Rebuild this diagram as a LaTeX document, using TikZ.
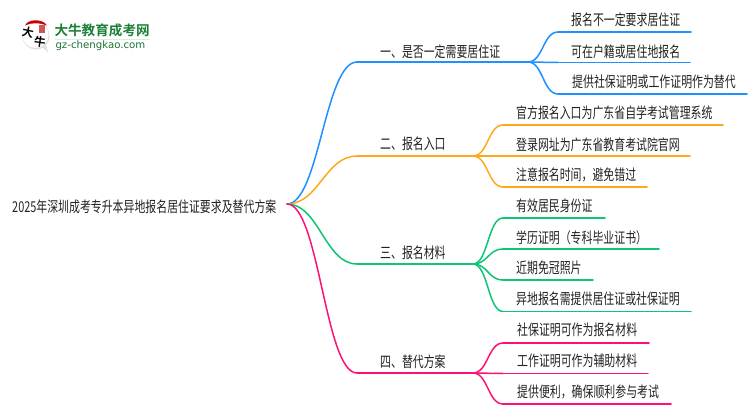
\documentclass[tikz,border=0pt]{standalone}
\usepackage{fontspec}
\setmainfont{Noto Sans CJK SC}
\newfontfamily\cjk[FakeStretch=0.727]{Noto Sans CJK SC}
\newfontfamily\cjkb{Noto Sans CJK SC Bold}
\newfontfamily\logofont{DejaVu Sans}
\definecolor{cblue}{HTML}{1E90FF}
\definecolor{corange}{HTML}{FFA91A}
\definecolor{cgreen}{HTML}{0CC673}
\definecolor{cpink}{HTML}{FF1076}
\definecolor{ctext}{HTML}{222222}
\definecolor{lgreen}{HTML}{1C7F36}
\tikzset{
  txt/.style={inner sep=0pt,anchor=west,text=ctext,font=\cjk\fontsize{15pt}{16pt}\selectfont},
  lnk/.style={line width=1.5pt,line cap=round},
  pt/.style={inner sep=0pt,minimum size=0pt,outer sep=0pt}
}
\newcommand{\crv}[3]{\draw[lnk,#1] (#2) .. controls +(32,0) and +(-32,0) .. (#3);}
\newcommand{\brc}[3]{\draw[lnk,#1] (#2) .. controls +(15,0) and +(-15,0) .. (#3);}
\begin{document}
\begin{tikzpicture}[x=1pt,y=-1pt]
\useasboundingbox (0,0) rectangle (750,410);
% logo
\fill[black!12] (36,36) circle (13.5);
\fill[black!12] (41,46) -- (48,52.5) -- (46,44) -- cycle;
\fill[white] (35.5,35) circle (13);
\fill[red!80!black] (25,25.5) .. controls (28,18.5) and (43,18.5) .. (47,25.5) .. controls (39,22.5) and (31,22.5) .. (25,25.5) -- cycle;
\fill[red!70!black,opacity=.65] (39,25) rectangle (45,33);
\node[pt,font=\cjkb\fontsize{11.5pt}{12pt}\selectfont,rotate=-12] (logoa) at (28,32) {大};
\node[pt,font=\cjkb\fontsize{11.5pt}{12pt}\selectfont,rotate=-8] (logob) at (40,42) {牛};
\node[pt,anchor=west,text=lgreen,font=\cjkb\fontsize{13.6pt}{14pt}\selectfont] (logoc) at (54.5,30) {大牛教育成考网};
\fill[lgreen!15] (55,38.5) rectangle (150,40);
\node[pt,anchor=west,text=lgreen!90!black,font=\logofont\fontsize{10.2pt}{11pt}\selectfont] (logod) at (55.5,45.5) {gz-chengkao.com};
% anchors
\coordinate (r) at (287,204);
\coordinate (a1) at (357,62);   \coordinate (a2) at (528,62);
\coordinate (b1) at (357,156);  \coordinate (b2) at (473,156);
\coordinate (c1) at (357,264);  \coordinate (c2) at (473,264);
\coordinate (d1) at (357,373);  \coordinate (d2) at (473,373);
\coordinate (a1s) at (558,32);  \coordinate (a1e) at (691,32);
\coordinate (a2s) at (558,62.5);\coordinate (a2e) at (690,62.5);
\coordinate (a3s) at (558,94);  \coordinate (a3e) at (747,94);
\coordinate (b1s) at (503,125); \coordinate (b1e) at (723,125);
\coordinate (b2s) at (503,156); \coordinate (b2e) at (690,156);
\coordinate (b3s) at (503,187); \coordinate (b3e) at (647,187);
\coordinate (c1s) at (503,218); \coordinate (c1e) at (605,218);
\coordinate (c2s) at (503,249); \coordinate (c2e) at (659,249);
\coordinate (c3s) at (503,280); \coordinate (c3e) at (593,280);
\coordinate (c4s) at (503,311.5); \coordinate (c4e) at (691,311.5);
\coordinate (d1s) at (503,343); \coordinate (d1e) at (649,343);
\coordinate (d2s) at (503,373.5); \coordinate (d2e) at (648,373.5);
\coordinate (d3s) at (503,404); \coordinate (d3e) at (671,404);
% connectors
\crv{cblue}{r}{a1} \draw[lnk,cblue] (a1) -- (a2);
\crv{corange}{r}{b1} \draw[lnk,corange] (b1) -- (b2);
\crv{cgreen}{r}{c1} \draw[lnk,cgreen] (c1) -- (c2);
\crv{cpink}{r}{d1} \draw[lnk,cpink] (d1) -- (d2);
\foreach \s/\e in {a1s/a1e,a2s/a2e,a3s/a3e}{\brc{cblue}{a2}{\s} \draw[lnk,cblue] (\s) -- (\e);}
\foreach \s/\e in {b1s/b1e,b2s/b2e,b3s/b3e}{\brc{corange}{b2}{\s} \draw[lnk,corange] (\s) -- (\e);}
\foreach \s/\e in {c1s/c1e,c2s/c2e,c3s/c3e,c4s/c4e}{\brc{cgreen}{c2}{\s} \draw[lnk,cgreen] (\s) -- (\e);}
\foreach \s/\e in {d1s/d1e,d2s/d2e,d3s/d3e}{\brc{cpink}{d2}{\s} \draw[lnk,cpink] (\s) -- (\e);}
% texts
\node[txt] (root) at (12,206.5) {2025年深圳成考专升本异地报名居住证要求及替代方案};
\node[txt] (ta) at (380,52) {一、是否一定需要居住证};
\node[txt] (tb) at (380,144) {二、报名入口};
\node[txt] (tc) at (380,253) {三、报名材料};
\node[txt] (td) at (380,362) {四、替代方案};
\node[txt] (ta1) at (571,20) {报名不一定要求居住证};
\node[txt] (ta2) at (571,52) {可在户籍或居住地报名};
\node[txt] (ta3) at (572,82) {提供社保证明或工作证明作为替代};
\node[txt] (tb1) at (516,113) {官方报名入口为广东省自学考试管理系统};
\node[txt] (tb2) at (516,145) {登录网址为广东省教育考试院官网};
\node[txt] (tb3) at (516,175) {注意报名时间，避免错过};
\node[txt] (tc1) at (516,206) {有效居民身份证};
\node[txt] (tc2) at (516,238) {学历证明（专科毕业证书）};
\node[txt] (tc3) at (516,268) {近期免冠照片};
\node[txt] (tc4) at (516,299) {异地报名需提供居住证或社保证明};
\node[txt] (td1) at (517,330) {社保证明可作为报名材料};
\node[txt] (td2) at (517,361) {工作证明可作为辅助材料};
\node[txt] (td3) at (517,392) {提供便利，确保顺利参与考试};
\end{tikzpicture}
\end{document}
